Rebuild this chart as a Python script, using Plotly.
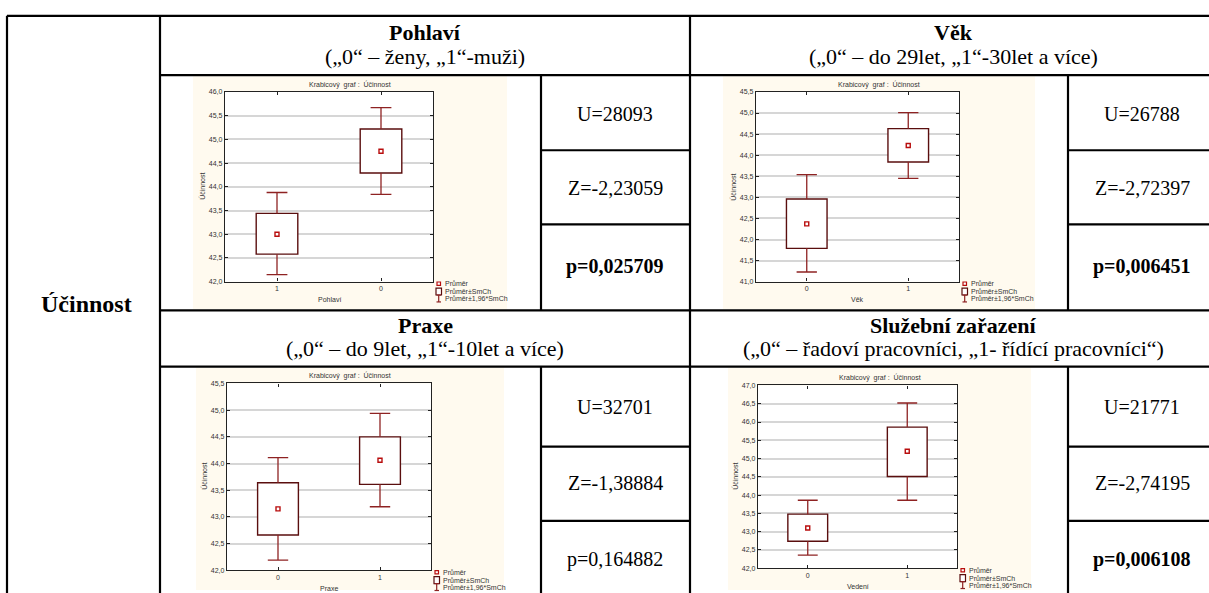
import plotly.graph_objects as go

W, H = 1209, 593

# ---------------- data ----------------
panel_vars = ["Pohlaví", "Věk", "Praxe", "Vedení"]
group_labels = [["1", "0"], ["0", "1"], ["0", "1"], ["0", "1"]]
means = [[43.00, 44.75], [42.37, 44.23], [43.15, 44.06], [43.10, 45.20]]
box_lo = [[42.58, 44.29], [41.79, 43.84], [42.66, 43.61], [42.74, 44.51]]
box_hi = [[43.44, 45.22], [42.96, 44.63], [43.64, 44.50], [43.48, 45.86]]
whisk_lo = [[42.15, 43.84], [41.23, 43.45], [42.19, 43.19], [42.36, 43.86]]
whisk_hi = [[43.88, 45.67], [43.54, 45.01], [44.11, 44.94], [43.86, 46.52]]
y_ranges = [[42.0, 46.0], [41.0, 45.5], [42.0, 45.5], [42.0, 47.0]]

row_label = "Účinnost"
headers = ["Pohlaví", "Věk", "Praxe", "Služební zařazení"]
subheaders = [
    "(„0“ – ženy, „1“-muži)",
    "(„0“ – do 29let, „1“-30let a více)",
    "(„0“ – do 9let, „1“-10let a více)",
    "(„0“ – řadoví pracovníci, „1- řídící pracovníci“)",
]
u_vals = ["U=28093", "U=26788", "U=32701", "U=21771"]
z_vals = ["Z=-2,23059", "Z=-2,72397", "Z=-1,38884", "Z=-2,74195"]
p_vals = ["p=0,025709", "p=0,006451", "p=0,164882", "p=0,006108"]
p_bold = [True, True, False, True]

chart_title = "Krabicový  graf :  Účinnost"
legend_items = ["Průměr", "Průměr±SmCh", "Průměr±1,96*SmCh"]

# ---------------- layout geometry (pixels) ----------------
# chart background boxes and plot areas: (x0, y0, x1, y1)
bg_boxes = [(193, 73, 507, 309), (723, 73, 1035, 309),
            (196, 368, 504, 593), (728, 368, 1031, 593)]
plot_boxes = [(225, 89, 433, 281), (756, 89, 959, 281),
              (227, 384, 431, 573), (758, 386, 957, 571)]
header_cx = [425, 953, 425, 953]
header_title_y = [29, 29, 325, 325]
header_sub_y = [53, 53, 349, 349]
stat_cx = [615, 1142, 615, 1142]
stat_rows_y = [(111, 186, 266), (111, 186, 266), (408, 485, 562), (408, 485, 562)]

SERIF = "Liberation Serif, Times New Roman, serif"
SANS = "Liberation Sans, Arial, sans-serif"
BOX_C = "#5a0e0e"
WHISK_C = "#8e2222"
MEAN_C = "#b80d0d"
BG_C = "#fffaef"
TXT_C = "#333333"


def fx(x):
    return x / W


def fy(y):
    return 1 - y / H


fig = go.Figure()
shapes = []
annotations = []


def label(x, y, text, family, size, color="black", **kw):
    d = dict(x=fx(x), y=fy(y), xref="paper", yref="paper", text=text,
             showarrow=False, xanchor="center", yanchor="middle",
             font=dict(family=family, size=size, color=color))
    d.update(kw)
    annotations.append(d)


# ---------------- table grid ----------------
LW = 2.2
RIGHT = 1216
hlines = [
    (12, 7, RIGHT), (72, 160, RIGHT), (310, 160, RIGHT), (367, 160, RIGHT),
    (148, 541, 690), (223, 541, 690), (148, 1068, RIGHT), (223, 1068, RIGHT),
    (448, 541, 690), (523, 541, 690), (448, 1068, RIGHT), (523, 1068, RIGHT),
]
vlines = [
    (7, 12, 600), (160, 12, 600), (690, 12, 600),
    (541, 72, 310), (541, 367, 600), (1068, 72, 310), (1068, 367, 600),
]
for y, x0, x1 in hlines:
    shapes.append(dict(type="line", xref="paper", yref="paper",
                       x0=fx(x0), x1=fx(x1), y0=fy(y), y1=fy(y),
                       line=dict(color="black", width=LW), layer="above"))
for x, y0, y1 in vlines:
    shapes.append(dict(type="line", xref="paper", yref="paper",
                       x0=fx(x), x1=fx(x), y0=fy(y0), y1=fy(y1),
                       line=dict(color="black", width=LW), layer="above"))

label(86, 304, f"<b>{row_label}</b>", SERIF, 24)

for i in range(4):
    label(header_cx[i], header_title_y[i], f"<b>{headers[i]}</b>", SERIF, 22)
    label(header_cx[i], header_sub_y[i], subheaders[i], SERIF, 22)
    uy, zy, py = stat_rows_y[i]
    label(stat_cx[i], uy, u_vals[i], SERIF, 20)
    label(stat_cx[i], zy, z_vals[i], SERIF, 20)
    ptxt = f"<b>{p_vals[i]}</b>" if p_bold[i] else p_vals[i]
    label(stat_cx[i], py, ptxt, SERIF, 20)

# ---------------- box charts ----------------
BOX_HALF = 0.2
CAP_HALF = 0.1
for i in range(4):
    k = "" if i == 0 else str(i + 1)
    xa, ya = "x" + k, "y" + k
    bx0, by0, bx1, by1 = bg_boxes[i]
    px0, py0, px1, py1 = plot_boxes[i]

    # graph background and white plotting area
    shapes.append(dict(type="rect", xref="paper", yref="paper",
                       x0=fx(bx0), x1=fx(bx1), y0=fy(by1), y1=fy(by0),
                       fillcolor=BG_C, line=dict(width=0), layer="below"))
    shapes.append(dict(type="rect", xref="paper", yref="paper",
                       x0=fx(px0), x1=fx(px1), y0=fy(py1), y1=fy(py0),
                       fillcolor="white", line=dict(width=0), layer="below"))

    xs = [0, 1]
    # mean ± SE boxes
    fig.add_trace(go.Bar(
        x=xs, y=[h - l for h, l in zip(box_hi[i], box_lo[i])], base=box_lo[i],
        width=2 * BOX_HALF, marker=dict(color="white", line=dict(color=BOX_C, width=1.4)),
        xaxis=xa, yaxis=ya, showlegend=False, hoverinfo="skip"))

    # whiskers (mean ± 1.96 SE)
    wx, wy = [], []
    for j, xc in enumerate(xs):
        wx += [xc, xc, None, xc, xc, None,
               xc - CAP_HALF, xc + CAP_HALF, None, xc - CAP_HALF, xc + CAP_HALF, None]
        wy += [box_hi[i][j], whisk_hi[i][j], None, box_lo[i][j], whisk_lo[i][j], None,
               whisk_hi[i][j], whisk_hi[i][j], None, whisk_lo[i][j], whisk_lo[i][j], None]
    fig.add_trace(go.Scatter(x=wx, y=wy, mode="lines", line=dict(color=WHISK_C, width=1.3),
                             xaxis=xa, yaxis=ya, showlegend=False, hoverinfo="skip"))

    # means
    fig.add_trace(go.Scatter(x=xs, y=means[i], mode="markers",
                             marker=dict(symbol="square-open", size=4, color=MEAN_C,
                                         line=dict(width=1.4, color=MEAN_C)),
                             xaxis=xa, yaxis=ya, showlegend=False, hoverinfo="skip"))

    axis_font = dict(family=SANS, size=7, color=TXT_C)
    fig.update_layout(**{
        "xaxis" + k: dict(domain=[fx(px0), fx(px1)], anchor=ya, range=[-0.5, 1.5],
                          tickvals=xs, ticktext=group_labels[i], showgrid=False, zeroline=False,
                          showline=True, linecolor="#222222", linewidth=1.4, mirror="ticks",
                          ticks="inside", ticklen=3, tickcolor="#222222", tickfont=axis_font,
                          fixedrange=True),
        "yaxis" + k: dict(domain=[fy(py1), fy(py0)], anchor=xa, range=y_ranges[i],
                          dtick=0.5, tickformat=".1f", showgrid=True, gridcolor="#d6d6d6",
                          gridwidth=1.5, zeroline=False, showline=True, linecolor="#222222",
                          linewidth=1.4, mirror="ticks", ticks="inside", ticklen=3,
                          tickcolor="#222222", tickfont=axis_font, fixedrange=True),
    })

    # chart title, axis titles
    label((bx0 + bx1) / 2, py0 - 8, chart_title, SANS, 7, TXT_C)
    label(px0 - 23, (py0 + py1) / 2, "Účinnost", SANS, 7, TXT_C, textangle=-90)
    label((px0 + px1) / 2, py1 + 18, panel_vars[i], SANS, 7, TXT_C)

    # legend
    lx = px1 + 4
    ly = [py1 + 2, py1 + 10, py1 + 17]
    for t, yy in zip(legend_items, ly):
        label(lx + 6, yy, t, SANS, 7, TXT_C, xanchor="left")
    # legend glyphs
    shapes.append(dict(type="rect", xref="paper", yref="paper",
                       x0=fx(lx), x1=fx(lx + 3.5), y0=fy(ly[0] + 1.7), y1=fy(ly[0] - 1.7),
                       line=dict(color=MEAN_C, width=1.2), fillcolor="white"))
    shapes.append(dict(type="rect", xref="paper", yref="paper",
                       x0=fx(lx - 1), x1=fx(lx + 4.5), y0=fy(ly[1] + 3.5), y1=fy(ly[1] - 3.5),
                       line=dict(color=BOX_C, width=1.2), fillcolor="white"))
    for seg in [(lx + 1.7, ly[2] - 3.5, lx + 1.7, ly[2] + 3.5),
                (lx - 0.5, ly[2] - 3.5, lx + 4, ly[2] - 3.5),
                (lx - 0.5, ly[2] + 3.5, lx + 4, ly[2] + 3.5)]:
        shapes.append(dict(type="line", xref="paper", yref="paper",
                           x0=fx(seg[0]), y0=fy(seg[1]), x1=fx(seg[2]), y1=fy(seg[3]),
                           line=dict(color=WHISK_C, width=1.2)))

fig.update_layout(
    width=W, height=H,
    margin=dict(l=0, r=0, t=0, b=0),
    paper_bgcolor="white",
    plot_bgcolor="rgba(0,0,0,0)",
    separators=", ",
    showlegend=False,
    hovermode=False,
    shapes=shapes,
    annotations=annotations,
)

fig.write_html("out.html", config={"displayModeBar": False})
